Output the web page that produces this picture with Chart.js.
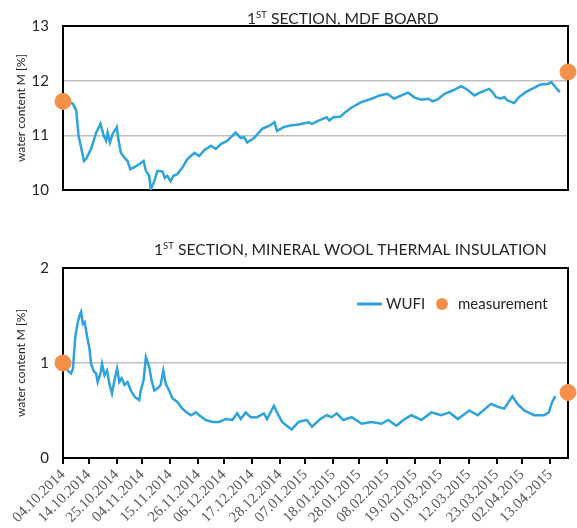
<!DOCTYPE html>
<html>
<head>
<meta charset="utf-8">
<script src="https://cdn.jsdelivr.net/npm/chart.js@4.4.1/dist/chart.umd.min.js"></script>
<style>
  body { margin: 0; background: #fff; }
  canvas { position: absolute; left: 0; }
  #topChart { top: 0; }
  #bottomChart { top: 228px; }
</style>
</head>
<body>
<canvas id="topChart" width="577" height="213"></canvas>
<canvas id="bottomChart" width="577" height="300"></canvas>
<script>
// x values are days since 04.10.2014
const tickDays = [0, 10, 21, 31, 42, 53, 63, 74, 85, 95, 106, 116, 127, 138, 148, 159, 170, 180, 191];
const tickLabels = ['04.10.2014', '14.10.2014', '25.10.2014', '04.11.2014', '15.11.2014', '26.11.2014',
    '06.12.2014', '17.12.2014', '28.12.2014', '07.01.2015', '18.01.2015', '28.01.2015', '08.02.2015',
    '19.02.2015', '01.03.2015', '12.03.2015', '23.03.2015', '02.04.2015', '13.04.2015'];

// MDF board, WUFI simulation
const mdfDays = [0, 3.9, 5.2, 6.1, 7.1, 8.2, 9.1, 11, 13, 14.7, 16, 16.9, 17.5, 18.4, 19.5, 21.1, 21.8, 22.7,
    24.1, 25.3, 26.4, 28, 29.9, 31.6, 32.5, 33.8, 34.4, 35.8, 37, 39, 39.9, 40.9, 42.2, 43.3, 44.8, 46.8, 48.7,
    51.5, 53.4, 55.4, 58, 59.9, 61.9, 64.4, 67.7, 69.7, 71, 72.2, 74.9, 78.1, 81.1, 82.9, 83.9, 86.5, 89.2,
    92.4, 96.3, 97.6, 100.2, 103.4, 104.4, 106, 108.7, 110.6, 113.2, 117.1, 121, 124.2, 127.2, 129.8, 132.7,
    135.3, 137.9, 140.5, 143.1, 145, 147, 149.6, 152.8, 156.1, 158.7, 161.3, 163.9, 167.1, 168.4, 169.7,
    171.7, 173, 174.3, 176.9, 178.8, 181.4, 184.7, 187.3, 189.9, 191.5, 193.1, 194.8];
const mdfWufi = [11.62, 11.58, 11.45, 10.99, 10.78, 10.53, 10.57, 10.75, 11.05, 11.21, 10.99, 10.9, 11.05,
    10.87, 11.03, 11.15, 10.9, 10.68, 10.59, 10.53, 10.38, 10.42, 10.47, 10.53, 10.35, 10.26, 10.01, 10.16,
    10.35, 10.34, 10.22, 10.26, 10.16, 10.26, 10.29, 10.41, 10.56, 10.68, 10.62, 10.73, 10.81, 10.75, 10.84,
    10.9, 11.05, 10.95, 10.97, 10.87, 10.95, 11.12, 11.18, 11.24, 11.08, 11.15, 11.18, 11.2, 11.24, 11.21,
    11.27, 11.33, 11.27, 11.33, 11.34, 11.42, 11.51, 11.61, 11.67, 11.73, 11.76, 11.67, 11.73, 11.78, 11.69,
    11.65, 11.67, 11.62, 11.66, 11.76, 11.82, 11.9, 11.83, 11.73, 11.79, 11.85, 11.79, 11.7, 11.67, 11.7,
    11.64, 11.59, 11.7, 11.79, 11.87, 11.93, 11.94, 11.97, 11.88, 11.79];

// mineral wool, WUFI simulation
const woolDays = [0, 1.9, 3.2, 3.9, 4.8, 5.8, 6.5, 7.1, 7.8, 8.5, 9.5, 10.4, 11, 12.1, 13, 13.6, 14.7, 15.3,
    16.3, 17.3, 18.2, 19.2, 20.2, 21.2, 22.1, 23, 24.1, 25.3, 26.6, 28.2, 29.9, 30.5, 31.6, 32.5, 33.8, 34.7,
    35.8, 37, 38.3, 39.3, 40.3, 41.6, 42.9, 44.8, 46.8, 48.5, 50.2, 52.1, 53.4, 56, 58.6, 61.2, 63.8, 66.4,
    68.3, 69.7, 71.6, 73.6, 76.1, 78.8, 80, 82.7, 83.9, 85.9, 89.6, 92.4, 95.6, 97.6, 100.9, 103.4, 105.4,
    107.3, 109.9, 113.2, 117.1, 121, 124.9, 127.5, 130.7, 134, 136.6, 140.5, 144.4, 148.3, 151.5, 154.8,
    159.3, 162.6, 167.8, 170.4, 173, 176.2, 178.2, 180.8, 184.7, 188.6, 190.5, 191.8, 193.1];
const woolWufi = [1.01, 0.92, 0.89, 0.94, 1.27, 1.43, 1.5, 1.54, 1.41, 1.43, 1.27, 1.15, 0.99, 0.91, 0.89,
    0.8, 0.89, 0.99, 0.87, 0.92, 0.78, 0.68, 0.82, 0.94, 0.8, 0.84, 0.77, 0.8, 0.71, 0.64, 0.61, 0.71, 0.82,
    1.06, 0.96, 0.82, 0.71, 0.73, 0.77, 0.92, 0.78, 0.71, 0.63, 0.59, 0.52, 0.48, 0.45, 0.48, 0.45, 0.4, 0.38,
    0.38, 0.41, 0.4, 0.47, 0.41, 0.48, 0.43, 0.43, 0.47, 0.41, 0.55, 0.48, 0.38, 0.3, 0.38, 0.4, 0.33, 0.41,
    0.45, 0.43, 0.47, 0.4, 0.43, 0.36, 0.38, 0.36, 0.4, 0.34, 0.41, 0.45, 0.4, 0.48, 0.45, 0.48, 0.41, 0.5,
    0.45, 0.57, 0.54, 0.52, 0.65, 0.57, 0.5, 0.45, 0.45, 0.48, 0.59, 0.65];

// measurements
const measDays = [0, 198];
const mdfMeas = [11.62, 12.16];
const woolMeas = [1.0, 0.69];

const mdfTicks = [10, 11, 12, 13];
const woolTicks = [0, 1, 2];

const blue = '#2EA3DC';
const orange = '#F5904A';
const font = 'Lato, "Open Sans", sans-serif';

function pts(xs, ys) {
    return xs.map((x, i) => ({ x: x, y: ys[i] }));
}

// frame around the plot area + title with superscript
const framePlugin = {
    id: 'frame',
    beforeDatasetsDraw(chart) {
        const a = chart.chartArea;
        const ctx = chart.ctx;
        ctx.save();
        ctx.strokeStyle = '#000';
        ctx.lineWidth = 2;
        ctx.strokeRect(a.left, a.top, a.right - a.left, a.bottom - a.top);
        ctx.restore();
    },
    afterDraw(chart, args, opts) {
        if (!opts.text) return;
        const ctx = chart.ctx;
        ctx.save();
        ctx.fillStyle = '#262626';
        ctx.textBaseline = 'alphabetic';
        let x = opts.x;
        ctx.font = '15.7px ' + font;
        ctx.fillText('1', x, opts.y);
        x += ctx.measureText('1').width;
        ctx.font = '9.5px ' + font;
        ctx.fillText('ST', x, opts.y - 6);
        x += ctx.measureText('ST').width;
        ctx.font = '15.7px ' + font;
        ctx.fillText(' ' + opts.text, x, opts.y);
        ctx.restore();
    }
};

// legend drawn inside the plot area
const legendPlugin = {
    id: 'innerLegend',
    afterDraw(chart, args, opts) {
        if (!opts.show) return;
        const ctx = chart.ctx;
        const ds = chart.data.datasets;
        const y = opts.y;
        ctx.save();
        ctx.strokeStyle = ds[0].borderColor;
        ctx.lineWidth = 3;
        ctx.beginPath();
        ctx.moveTo(357, y);
        ctx.lineTo(382, y);
        ctx.stroke();
        ctx.fillStyle = ds[1].backgroundColor;
        ctx.beginPath();
        ctx.arc(442, y, 6, 0, Math.PI * 2);
        ctx.fill();
        ctx.fillStyle = '#262626';
        ctx.font = '15px ' + font;
        ctx.textBaseline = 'middle';
        ctx.fillText(ds[0].label, 386, y);
        ctx.fillText(ds[1].label, 458, y);
        ctx.restore();
    }
};

function makeChart(id, wufi, meas, yMin, yMax, yTicks, showX, xHeight, padding, titleOpts, showLegend) {
    return new Chart(document.getElementById(id), {
        type: 'line',
        data: {
            datasets: [
                {
                    label: 'WUFI',
                    data: wufi,
                    borderColor: blue,
                    borderWidth: 2.5,
                    pointRadius: 0,
                    tension: 0,
                    order: 2
                },
                {
                    label: 'measurement',
                    data: meas,
                    showLine: false,
                    backgroundColor: orange,
                    borderColor: orange,
                    pointRadius: 8,
                    clip: false,
                    order: 1
                }
            ]
        },
        options: {
            responsive: false,
            animation: false,
            layout: { padding: padding },
            plugins: {
                legend: { display: false },
                tooltip: { enabled: false },
                frame: titleOpts,
                innerLegend: { show: showLegend, y: 76 }
            },
            scales: {
                x: {
                    type: 'linear',
                    min: 0,
                    max: 198,
                    afterBuildTicks: s => { s.ticks = tickDays.map(v => ({ value: v })); },
                    afterFit: s => { s.height = xHeight; },
                    border: { display: false },
                    grid: { display: showX, drawOnChartArea: false, color: '#000', lineWidth: 2, tickLength: 6 },
                    ticks: {
                        display: showX,
                        autoSkip: false,
                        minRotation: 45,
                        maxRotation: 45,
                        padding: 2,
                        color: '#595959',
                        font: { family: 'Liberation Serif', size: 15 },
                        callback: v => tickLabels[tickDays.indexOf(v)]
                    }
                },
                y: {
                    min: yMin,
                    max: yMax,
                    afterBuildTicks: s => { s.ticks = yTicks.map(v => ({ value: v })); },
                    afterFit: s => { s.width = 63; },
                    border: { display: false },
                    grid: { color: '#BFBFBF', lineWidth: 1.5, drawTicks: false },
                    ticks: {
                        padding: 14,
                        color: '#262626',
                        font: { family: font, size: 15 }
                    },
                    title: {
                        display: true,
                        text: 'water content M [%]',
                        color: '#262626',
                        font: { family: font, size: 12 },
                        padding: { top: 14, bottom: 0 }
                    }
                }
            }
        },
        plugins: [framePlugin, legendPlugin]
    });
}

makeChart('topChart', pts(mdfDays, mdfWufi), pts(measDays, mdfMeas), 10, 13, mdfTicks, false, 11,
    { left: 0, right: 5, top: 26, bottom: 0 },
    { text: 'SECTION, MDF BOARD', x: 247, y: 24 }, false);

makeChart('bottomChart', pts(woolDays, woolWufi), pts(measDays, woolMeas), 0, 2, woolTicks, true, 70,
    { left: 0, right: 7, top: 40, bottom: 0 },
    { text: 'SECTION, MINERAL WOOL THERMAL INSULATION', x: 154, y: 27 }, true);
</script>
</body>
</html>
